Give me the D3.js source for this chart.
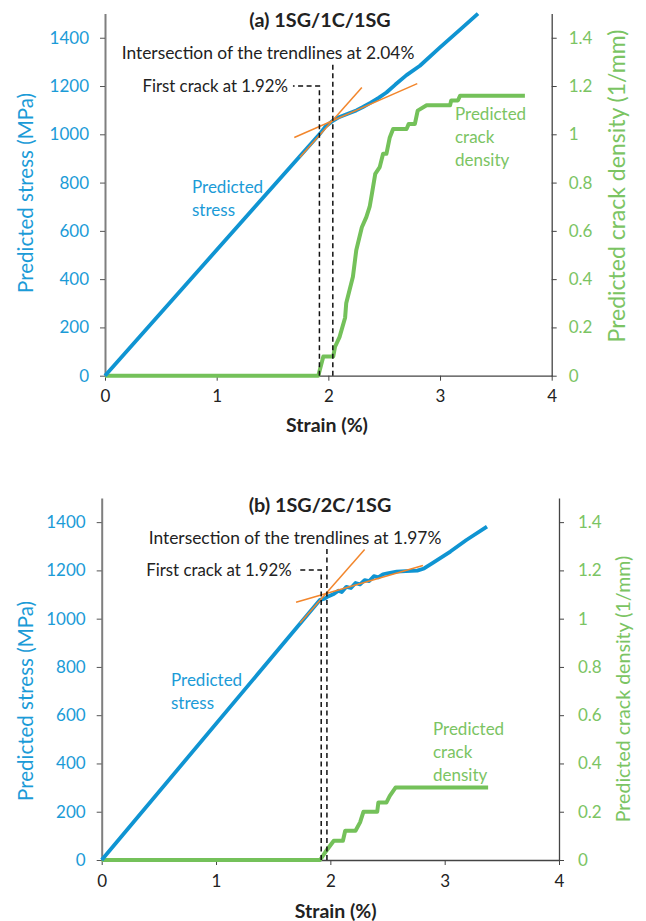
<!DOCTYPE html>
<html>
<head>
<meta charset="utf-8">
<script src="https://cdn.jsdelivr.net/npm/d3@7"></script>
<style>
  body { margin: 0; background: #fff; }
  svg { display: block; font-family: Lato, "Open Sans", sans-serif; }
</style>
</head>
<body>
<svg id="svg"></svg>
<script>

const width = 646;
const height = 921;

// ticks
const strainTicks = [0, 1, 2, 3, 4];
const stressTicks = [0, 200, 400, 600, 800, 1000, 1200, 1400];
const densTicks = [0, 0.2, 0.4, 0.6, 0.8, 1, 1.2, 1.4];

// (a) 1SG/1C/1SG
const strainA = [0, 1.92, 1.97, 2.04, 2.10, 2.18, 2.25, 2.31, 2.38, 2.45, 2.52, 2.60, 2.70, 2.82, 3.00, 3.20, 3.34];
const stressA = [0, 1000, 1030, 1056, 1072, 1086, 1099, 1113, 1131, 1151, 1173, 1206, 1245, 1284, 1360, 1442, 1500];
const crackStrainA = [0, 1.91, 1.955, 2.044, 2.06, 2.10, 2.15, 2.16, 2.19, 2.22, 2.25, 2.30, 2.34, 2.37, 2.39, 2.42, 2.46, 2.49, 2.52, 2.55, 2.58, 2.70, 2.72, 2.775, 2.80, 2.88, 3.09, 3.10, 3.16, 3.18, 3.76];
const crackDensA = [0, 0, 0.08, 0.08, 0.12, 0.16, 0.24, 0.30, 0.355, 0.41, 0.52, 0.615, 0.657, 0.70, 0.753, 0.836, 0.864, 0.919, 0.919, 0.987, 1.022, 1.022, 1.043, 1.043, 1.098, 1.12, 1.12, 1.14, 1.14, 1.16, 1.16];
const trendSteepA = [[1.745, 905], [2.30, 1194]];
const trendFlatA = [[1.695, 987], [2.796, 1210]];

// (b) 1SG/2C/1SG
const strainB = [0, 1.91, 1.95, 1.98, 2.03, 2.07, 2.10, 2.14, 2.18, 2.22, 2.26, 2.30, 2.34, 2.38, 2.42, 2.46, 2.50, 2.58, 2.66, 2.76, 2.82, 2.90, 3.05, 3.19, 3.37];
const stressB = [0, 1078, 1083, 1092, 1102, 1116, 1110, 1132, 1127, 1148, 1142, 1160, 1156, 1176, 1171, 1184, 1188, 1195, 1197, 1199, 1208, 1232, 1278, 1326, 1381];
const crackStrainB = [0, 1.91, 1.955, 2.03, 2.11, 2.13, 2.22, 2.26, 2.29, 2.41, 2.42, 2.49, 2.52, 2.57, 3.38];
const crackDensB = [0, 0, 0.032, 0.08, 0.08, 0.121, 0.121, 0.156, 0.2, 0.2, 0.238, 0.238, 0.266, 0.30, 0.30];
const trendSteepB = [[1.735, 982], [2.30, 1287]];
const trendFlatB = [[1.70, 1068], [2.81, 1220]];

const blue = "#1b9bd7";
const blueLine = "#0f94d2";
const green = "#7bc463";
const greenLine = "#74c15a";
const orange = "#f2862c";
const tickFont = "17px";

const svg = d3.select("#svg")
  .attr("width", width)
  .attr("height", height)
  .attr("viewBox", `0 0 ${width} ${height}`);

function drawPanel(p) {
  const x = d3.scaleLinear().domain([0, 4]).range(p.xRange);
  const y = d3.scaleLinear().domain([0, 1500]).range(p.yRange);
  const y2 = d3.scaleLinear().domain([0, 1.5]).range(p.yRange);
  const g = svg.append("g");

  // axes
  const left = g.append("g")
    .attr("transform", `translate(${p.xRange[0]},0)`)
    .call(d3.axisLeft(y).tickValues(stressTicks).tickFormat(d3.format("d")).tickSize(5).tickSizeOuter(0).tickPadding(11));
  left.select(".domain").attr("stroke", "#7f7f7f").attr("stroke-width", 2);
  left.selectAll(".tick line").attr("stroke", "#555");
  left.selectAll(".tick text").attr("fill", blue).style("font-size", tickFont).style("font-family", "Lato, sans-serif");

  const right = g.append("g")
    .attr("transform", `translate(${p.xRange[1]},0)`)
    .call(d3.axisRight(y2).tickValues(densTicks).tickFormat(d3.format("~g")).tickSize(5).tickSizeOuter(0).tickPadding(p.rightPad));
  right.select(".domain").attr("stroke", "#444").attr("stroke-width", 1.3);
  right.selectAll(".tick line").attr("stroke", "#444");
  right.selectAll(".tick text").attr("fill", green).style("font-size", tickFont).style("font-family", "Lato, sans-serif");

  const bottom = g.append("g")
    .attr("transform", `translate(0,${p.yRange[0]})`)
    .call(d3.axisBottom(x).tickValues(strainTicks).tickFormat(d3.format("d")).tickSize(5).tickSizeOuter(0).tickPadding(p.bottomPad));
  bottom.select(".domain").attr("stroke", "#444").attr("stroke-width", 1.3);
  bottom.selectAll(".tick line").attr("stroke", "#444");
  bottom.selectAll(".tick text").attr("fill", "#222").style("font-size", tickFont).style("font-family", "Lato, sans-serif");

  // crack density
  const crack = p.crackStrain.map((s, i) => [s, p.crackDens[i]]);
  g.append("path")
    .datum(crack)
    .attr("fill", "none")
    .attr("stroke", greenLine)
    .attr("stroke-width", 4)
    .attr("stroke-linejoin", "round")
    .attr("d", d3.line().x(d => x(d[0])).y(d => y2(d[1])));

  // stress
  const stress = p.strain.map((s, i) => [s, p.stress[i]]);
  g.append("path")
    .datum(stress)
    .attr("fill", "none")
    .attr("stroke", blueLine)
    .attr("stroke-width", 3.8)
    .attr("stroke-linejoin", "round")
    .attr("d", d3.line().x(d => x(d[0])).y(d => y(d[1])));

  // trendlines
  [p.trendSteep, p.trendFlat].forEach(t => {
    g.append("path")
      .datum(t)
      .attr("fill", "none")
      .attr("stroke", orange)
      .attr("stroke-width", 1.5)
      .attr("d", d3.line().x(d => x(d[0])).y(d => y(d[1])));
  });

  // dashed markers
  const dash = "5,3.5";
  g.append("path")
    .attr("fill", "none").attr("stroke", "#111").attr("stroke-width", 1.5).attr("stroke-dasharray", dash)
    .attr("d", d3.line()([[x(p.firstCrack), y(0)], [x(p.firstCrack), y(p.firstTop)], [x(p.firstLeft), y(p.firstTop)]]));
  g.append("path")
    .attr("fill", "none").attr("stroke", "#111").attr("stroke-width", 1.5).attr("stroke-dasharray", dash)
    .attr("d", d3.line()([[x(p.inter), y(0)], [x(p.inter), y(p.interTop)]]));

  g.append("text")
    .attr("x", x(p.firstLeft) - 5)
    .attr("y", y(p.firstTop) + 6)
    .attr("text-anchor", "end")
    .attr("fill", "#222")
    .style("font-size", "16.8px")
    .text(`First crack at ${p.firstCrack.toFixed(2)}%`);
  g.append("text")
    .attr("x", p.interTextX)
    .attr("y", p.interTextY)
    .attr("text-anchor", "middle")
    .attr("fill", "#222")
    .style("font-size", "17.4px")
    .text(`Intersection of the trendlines at ${p.inter.toFixed(2)}%`);

  // title
  g.append("text")
    .attr("x", p.titleX)
    .attr("y", p.titleY)
    .attr("text-anchor", "middle")
    .attr("fill", "#222")
    .style("font-size", "19.8px")
    .style("font-weight", "bold")
    .text(p.title);

  // axis titles
  g.append("text")
    .attr("transform", `translate(${p.xRange[0] + p.xLabelDx},${p.yRange[0] + p.xLabelDy})`)
    .attr("text-anchor", "middle")
    .attr("fill", "#222")
    .style("font-size", "19.5px")
    .style("font-weight", "bold")
    .text("Strain (%)");
  g.append("text")
    .attr("transform", `translate(${p.leftLabel[0]},${p.leftLabel[1]}) rotate(-90)`)
    .attr("text-anchor", "middle")
    .attr("fill", blue)
    .style("font-size", "20.5px")
    .text("Predicted stress (MPa)");
  g.append("text")
    .attr("transform", `translate(${p.rightLabel[0]},${p.rightLabel[1]}) rotate(-90)`)
    .attr("text-anchor", "middle")
    .attr("fill", green)
    .style("font-size", p.rightLabelSize)
    .text("Predicted crack density (1/mm)");

  // series labels
  const sl = g.append("text").attr("fill", blue).style("font-size", "17px");
  ["Predicted", "stress"].forEach((t, i) => {
    sl.append("tspan").attr("x", p.stressLabel[0]).attr("y", p.stressLabel[1] + i * 23).text(t);
  });
  const cl = g.append("text").attr("fill", green).style("font-size", "17px");
  ["Predicted", "crack", "density"].forEach((t, i) => {
    cl.append("tspan").attr("x", p.crackLabel[0]).attr("y", p.crackLabel[1] + i * 23).text(t);
  });
}

drawPanel({
  title: "(a) 1SG/1C/1SG",
  xRange: [105, 551.7],
  yRange: [375.7, 13.6],
  strain: strainA, stress: stressA,
  crackStrain: crackStrainA, crackDens: crackDensA,
  trendSteep: trendSteepA, trendFlat: trendFlatA,
  firstCrack: 1.92, firstTop: 1200, firstLeft: 1.683,
  inter: 2.04, interTop: 1297,
  interTextX: 268, interTextY: 59,
  titleX: 320, titleY: 27,
  xLabelDx: 222, xLabelDy: 56,
  rightPad: 12, bottomPad: 9,
  leftLabel: [33, 193], rightLabel: [625, 186], rightLabelSize: "23px",
  stressLabel: [192, 193],
  crackLabel: [455, 120]
});

drawPanel({
  title: "(b) 1SG/2C/1SG",
  xRange: [101.7, 559],
  yRange: [860, 498],
  strain: strainB, stress: stressB,
  crackStrain: crackStrainB, crackDens: crackDensB,
  trendSteep: trendSteepB, trendFlat: trendFlatB,
  firstCrack: 1.92, firstTop: 1202, firstLeft: 1.706,
  inter: 1.97, interTop: 1298,
  interTextX: 295, interTextY: 544,
  titleX: 320, titleY: 512,
  xLabelDx: 234, xLabelDy: 58,
  rightPad: 14, bottomPad: 10,
  leftLabel: [33, 701], rightLabel: [630, 689], rightLabelSize: "19.6px",
  stressLabel: [171, 686],
  crackLabel: [433, 735]
});

</script>
</body>
</html>
